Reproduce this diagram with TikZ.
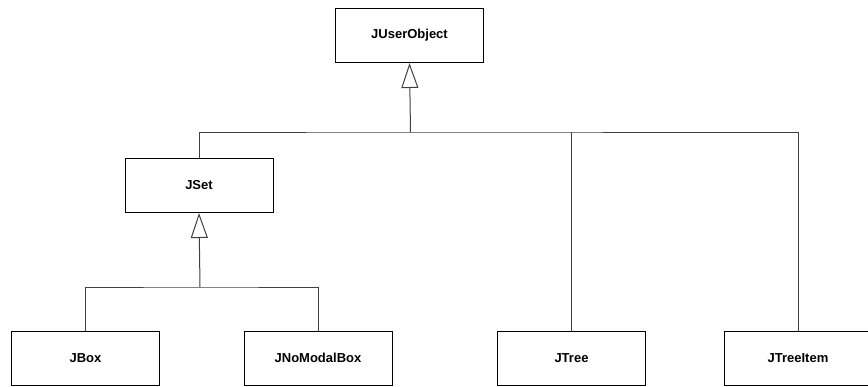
\documentclass[tikz,border=0pt]{standalone}
\usepackage{fontspec}
\setmainfont{Liberation Sans}
\usetikzlibrary{arrows.meta}
\begin{document}
\begin{tikzpicture}[x=1pt,y=-1pt,
  cls/.style={draw=black, line width=1pt, fill=white, minimum width=148pt,
    minimum height=54pt, inner sep=0pt, font=\bfseries\fontsize{13}{15}\selectfont},
  link/.style={draw=black!75, line width=1pt},
  inherit/.style={link, -{Triangle[open, length=25pt, width=17pt, line width=1pt]}}]
  \useasboundingbox (0,0) rectangle (868,386);
  \clip (0,0) rectangle (868,386);

  % classes
  \node[cls] (uo)   at (409.5,35.5) {JUserObject};
  \node[cls] (set)  at (199,185.5)  {JSet};
  \node[cls] (box)  at (85.5,358)   {JBox};
  \node[cls] (nmb)  at (318,358)    {JNoModalBox};
  \node[cls] (tree) at (571.5,358)  {JTree};
  \node[cls] (item) at (798,358)    {JTreeItem};

  % junctions of the inheritance trees
  \coordinate (j1) at (410.5,132);
  \coordinate (j2) at (200,287);

  % JUserObject subclasses
  \draw[inherit] (j1) -- (uo.south);
  \draw[link] (set.north) |- (j1) -| (item.north);
  \draw[link] (tree.north) -- (tree.north |- j1);

  % JSet subclasses
  \draw[inherit] (j2) -- (set.south);
  \draw[link] (box.north) |- (j2) -| (nmb.north);
\end{tikzpicture}
\end{document}
